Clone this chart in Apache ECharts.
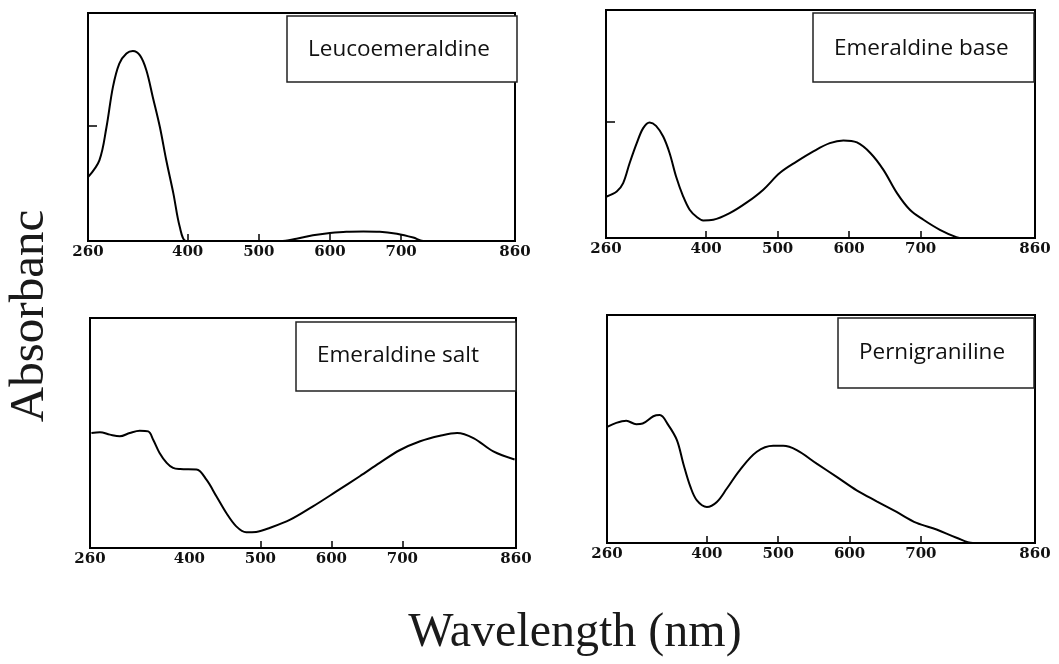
<!DOCTYPE html>
<html>
<head>
<meta charset="utf-8">
<script src="https://cdn.jsdelivr.net/npm/echarts@6/dist/echarts.min.js"></script>
<style>
html,body{margin:0;padding:0;background:#fff;}
#chart{width:1059px;height:664px;}
</style>
</head>
<body>
<div id="chart"></div>
<script>
// ---- data (wavelength in nm, absorbance in relative units 0..1) ----
const panelTitles = ['Leucoemeraldine', 'Emeraldine base', 'Emeraldine salt', 'Pernigraniline'];
const tickLabels = [260, 400, 500, 600, 700, 860];
const axisTitleX = 'Wavelength (nm)';
const axisTitleY = 'Absorbanc';

const leucoX = [260, 276, 286, 295, 304, 314, 323, 333, 342, 351, 361, 370, 380, 389, 398, 420, 480, 530, 553, 576, 600, 623, 647, 670, 694, 717, 731, 780, 860];
const leucoY = [0.28, 0.354, 0.5, 0.675, 0.778, 0.822, 0.833, 0.814, 0.749, 0.632, 0.5, 0.354, 0.208, 0.061, 0.0, 0.0, 0.0, 0.0, 0.01, 0.025, 0.035, 0.041, 0.042, 0.041, 0.032, 0.015, 0.0, 0.0, 0.0];

const baseX = [261, 275, 284, 293, 303, 312, 321, 330, 340, 349, 358, 368, 377, 387, 396, 410, 433, 457, 480, 503, 527, 550, 573, 592, 611, 630, 648, 667, 685, 704, 727, 750, 760, 860];
const baseY = [0.182, 0.204, 0.241, 0.328, 0.416, 0.482, 0.507, 0.492, 0.445, 0.372, 0.27, 0.182, 0.124, 0.092, 0.077, 0.08, 0.109, 0.156, 0.212, 0.285, 0.336, 0.38, 0.416, 0.428, 0.419, 0.372, 0.299, 0.197, 0.124, 0.08, 0.036, 0.004, 0.0, 0.0];

const saltX = [262, 274, 288, 302, 316, 330, 342, 349, 358, 368, 377, 387, 410, 424, 438, 452, 466, 480, 494, 513, 542, 574, 607, 640, 668, 696, 725, 753, 777, 800, 828, 858];
const saltY = [0.5, 0.503, 0.493, 0.486, 0.5, 0.51, 0.507, 0.471, 0.413, 0.37, 0.348, 0.343, 0.341, 0.297, 0.225, 0.152, 0.094, 0.068, 0.07, 0.087, 0.123, 0.181, 0.246, 0.312, 0.37, 0.425, 0.464, 0.488, 0.5, 0.478, 0.42, 0.385];

const perniX = [261, 273, 287, 301, 310, 325, 334, 346, 358, 367, 377, 386, 400, 414, 428, 446, 470, 493, 507, 526, 554, 582, 610, 638, 666, 694, 722, 750, 773, 860];
const perniY = [0.51, 0.527, 0.536, 0.521, 0.524, 0.556, 0.561, 0.517, 0.451, 0.348, 0.246, 0.187, 0.158, 0.18, 0.239, 0.319, 0.4, 0.426, 0.426, 0.407, 0.348, 0.29, 0.231, 0.183, 0.136, 0.088, 0.059, 0.023, 0.0, 0.0];

const allX = [leucoX, baseX, saltX, perniX];
const allY = [leucoY, baseY, saltY, perniY];
const xTickMarks = [[400, 500, 600, 700], [400, 500, 600, 700], [500, 600, 700], [400, 500, 600, 700]];
const yTickMarks = [[0.507], [0.511], [], []];

// ---- layout ----
const grids = [
  {left: 88, right: 544, top: 13, bottom: 423},
  {left: 606, right: 24, top: 10, bottom: 426},
  {left: 90, right: 543, top: 318, bottom: 116},
  {left: 607, right: 24, top: 315, bottom: 121}
];
const boxes = [
  {x: 287, y: 16, w: 230, h: 66, ty: 50},
  {x: 813, y: 13, w: 221, h: 69, ty: 49},
  {x: 296, y: 322, w: 220, h: 69, ty: 356},
  {x: 838, y: 318, w: 196, h: 70, ty: 353}
];

const chart = echarts.init(document.getElementById('chart'));

const xAxes = [], yAxes = [], series = [], graphics = [];
for (let i = 0; i < 4; i++) {
  xAxes.push({
    type: 'value', gridIndex: i, min: 260, max: 860,
    axisLine: {show: true, onZero: false, lineStyle: {color: '#000', width: 2}},
    axisTick: {show: true, inside: true, length: 7, customValues: xTickMarks[i], lineStyle: {color: '#000', width: 1.5}},
    axisLabel: {show: true, customValues: tickLabels, margin: 4, color: '#111',
      fontFamily: 'DejaVu Serif', fontWeight: 'bold', fontSize: 15},
    splitLine: {show: false}
  });
  yAxes.push({
    type: 'value', gridIndex: i, min: 0, max: 1,
    axisLine: {show: true, onZero: false, lineStyle: {color: '#000', width: 2}},
    axisTick: {show: yTickMarks[i].length > 0, inside: true, length: 9, customValues: yTickMarks[i], lineStyle: {color: '#000', width: 1.5}},
    axisLabel: {show: false},
    splitLine: {show: false}
  });
  series.push({
    type: 'line', xAxisIndex: i, yAxisIndex: i,
    data: allX[i].map((x, k) => [x, allY[i][k]]),
    smooth: 0.35, symbol: 'none',
    lineStyle: {color: '#000', width: 2}, clip: true, silent: true
  });
  const b = boxes[i];
  graphics.push({
    type: 'rect', z: 100,
    shape: {x: b.x, y: b.y, width: b.w, height: b.h},
    style: {fill: '#fff', stroke: '#222', lineWidth: 1.5}
  });
  graphics.push({
    type: 'text', z: 101, x: b.x + 21, y: b.ty,
    style: {text: panelTitles[i], fill: '#111', font: '22.5px "Open Sans"', textAlign: 'left', textVerticalAlign: 'middle'}
  });
}
graphics.push({
  type: 'text', x: 575, y: 633,
  style: {text: axisTitleX, fill: '#1a1a1a', font: '48px "Liberation Serif"', textAlign: 'center', textVerticalAlign: 'middle'}
});
graphics.push({
  type: 'text', x: 30, y: 316, rotation: Math.PI / 2,
  style: {text: axisTitleY, fill: '#1a1a1a', font: '49px "Liberation Serif"', textAlign: 'center', textVerticalAlign: 'middle'}
});

chart.setOption({
  animation: false,
  backgroundColor: '#fff',
  grid: grids.map(g => Object.assign({show: true, borderColor: '#000', borderWidth: 2, backgroundColor: 'transparent'}, g)),
  xAxis: xAxes,
  yAxis: yAxes,
  series: series,
  graphic: graphics
});
</script>
</body>
</html>
